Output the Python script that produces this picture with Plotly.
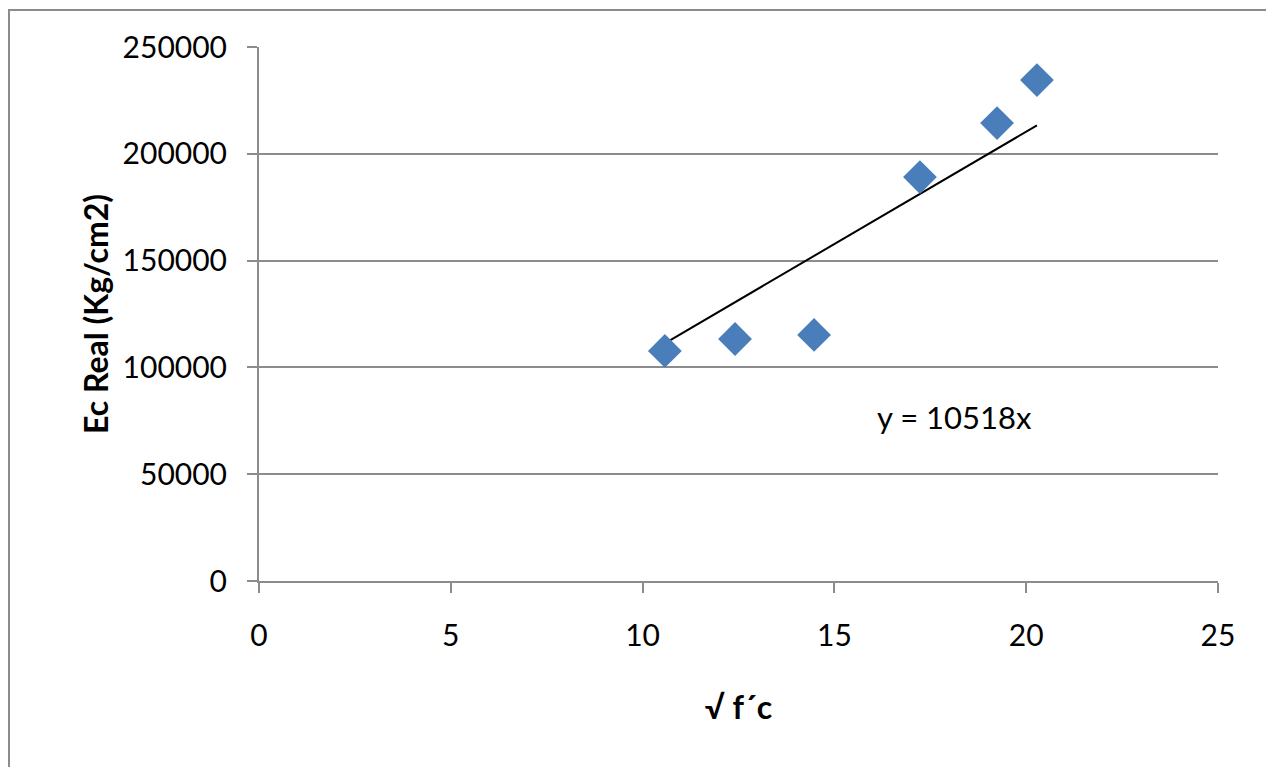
import plotly.graph_objects as go

sqrt_fc = [10.58, 12.41, 14.47, 17.23, 19.24, 20.28]
ec_real = [107700, 113300, 115200, 189100, 214400, 234500]
slope = 10518
trend_label = "y = 10518x"
x_title = "√ f´c"
y_title = "Ec Real (Kg/cm2)"
x_ticks = [0, 5, 10, 15, 20, 25]
y_ticks = [0, 50000, 100000, 150000, 200000, 250000]

OFF = 8  # page body margin
W, H = 1274 - OFF, 767 - OFF
L, T = 259 - OFF, 47 - OFF
pw, ph = 959, 534
R, B = W - L - pw, H - T - ph

grid = "#8c8c8c"
font = "Lato, Open Sans, sans-serif"

tx = [min(sqrt_fc), max(sqrt_fc)]
ty = [slope * v for v in tx]

fig = go.Figure()
fig.add_trace(go.Scatter(x=tx, y=ty, mode="lines", line=dict(color="black", width=2),
                         showlegend=False, hoverinfo="skip"))
fig.add_trace(go.Scatter(x=sqrt_fc, y=ec_real, mode="markers",
                         marker=dict(symbol="diamond", size=26, color="#4a7ebb",
                                     line=dict(width=0)),
                         showlegend=False))

# border of chart area in page pixels: left x=8, top y=9
bx0, by0 = 8 - OFF, 9 - OFF

fig.update_layout(
    width=W, height=H,
    margin=dict(l=L, r=R, t=T, b=B),
    plot_bgcolor="white", paper_bgcolor="white",
    font=dict(family=font, size=30, color="black"),
    xaxis=dict(range=[0, 25], tickvals=x_ticks, ticktext=[str(v) for v in x_ticks],
               showgrid=False, zeroline=False,
               showline=True, linecolor=grid, linewidth=2,
               ticks="outside", ticklen=10, tickcolor=grid, tickwidth=2,
               tickfont=dict(size=30), ticklabelstandoff=17,
               title=dict(text="<b>" + x_title + "</b>", font=dict(size=32), standoff=46)),
    yaxis=dict(range=[0, 250000], tickvals=y_ticks, ticktext=[str(v) for v in y_ticks],
               showgrid=True, gridcolor=grid, gridwidth=2,
               zeroline=False, showline=True, linecolor=grid, linewidth=2,
               ticks="outside", ticklen=10, tickcolor=grid, tickwidth=2,
               tickfont=dict(size=30), ticklabelstandoff=14,
               title=dict(text="<b>" + y_title + "</b>", font=dict(size=32), standoff=4)),
    shapes=[dict(type="rect", xref="paper", yref="paper",
                 x0=(bx0 + 1 - L) / pw, x1=(W + 20 - L) / pw,
                 y0=(T + ph - (H + 20)) / ph, y1=(T + ph - by0 - 1) / ph,
                 line=dict(color=grid, width=2), layer="below")],
    annotations=[dict(x=18.13, y=76900, xref="x", yref="y", text=trend_label,
                      showarrow=False, font=dict(size=31, family=font))],
)

fig.write_html("out.html")
